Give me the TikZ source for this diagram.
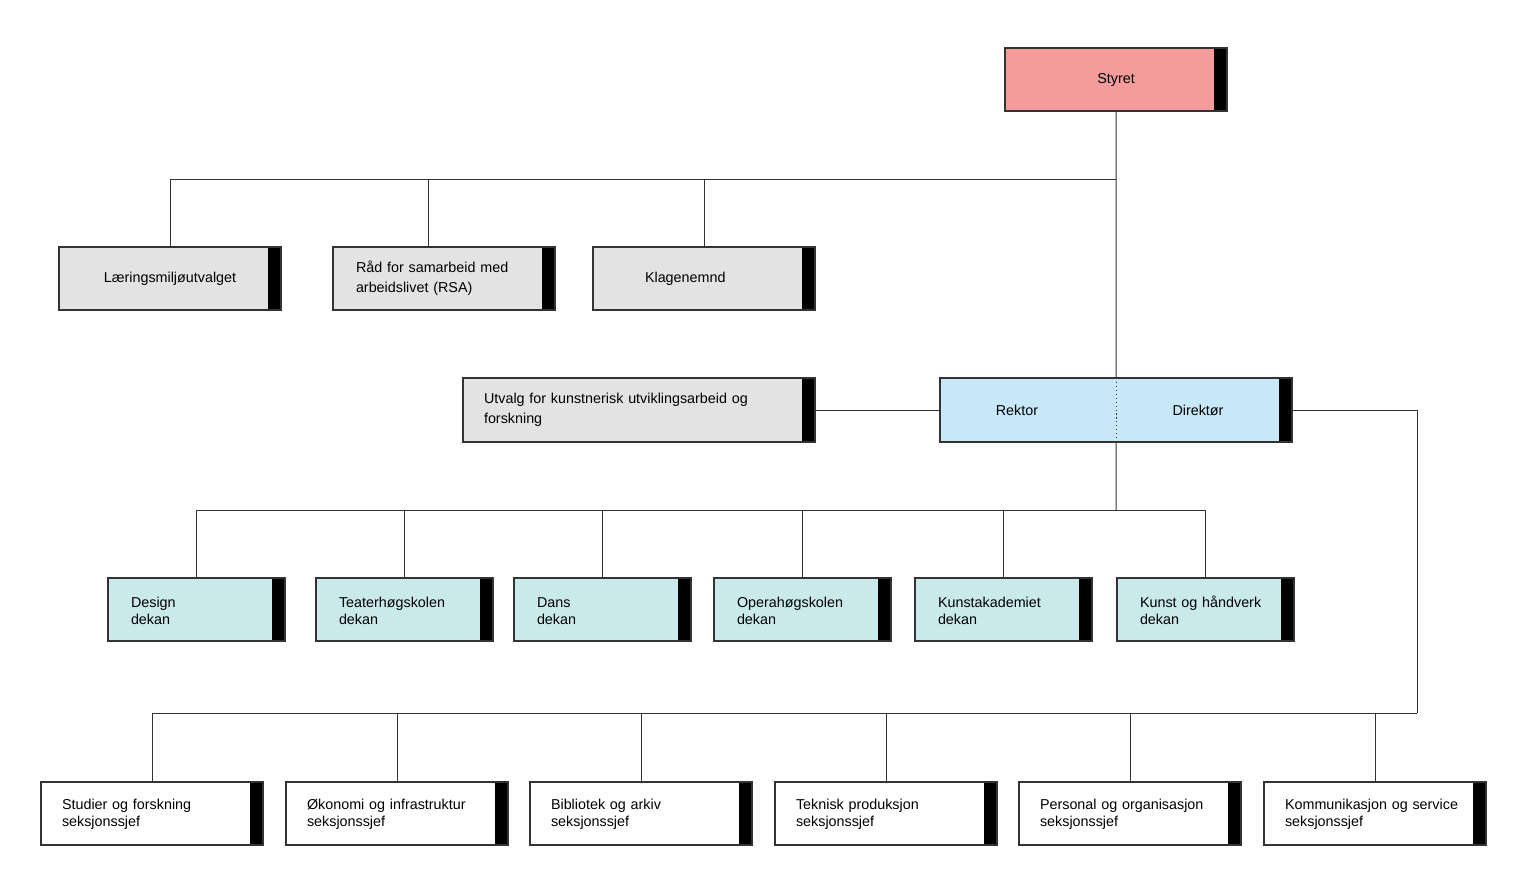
\documentclass[tikz,border=0pt]{standalone}
\usepackage{fontspec}
\setmainfont{Liberation Sans}
\usetikzlibrary{positioning}

\definecolor{styrerod}{HTML}{F49C9C}
\definecolor{utvalggraa}{HTML}{E3E3E3}
\definecolor{ledelseblaa}{HTML}{C6E8F8}
\definecolor{dekanturkis}{HTML}{C9E9EA}
\definecolor{linjegraa}{HTML}{333333}

\tikzset{
  enhet/.style={draw=black!80, line width=0.9pt, anchor=north west, outer sep=0pt,
    minimum height=1.575cm, inner ysep=0pt, inner xsep=0.55cm, align=left,
    font=\fontsize{10.2}{12.2}\selectfont,
    path picture={\fill[black] ([xshift=-0.325cm]path picture bounding box.north east)
      rectangle (path picture bounding box.south east);}},
  styreboks/.style={enhet, fill=styrerod, minimum width=5.55cm, text width=4.45cm, align=center},
  utvalgboks/.style={enhet, fill=utvalggraa, minimum width=5.55cm, text width=4.4cm,
    inner xsep=0.575cm, font=\fontsize{10.2}{14}\selectfont},
  ledelseboks/.style={enhet, fill=ledelseblaa, minimum width=8.8cm, minimum height=1.6cm},
  dekanboks/.style={enhet, fill=dekanturkis, minimum width=4.425cm, text width=3.275cm, inner xsep=0.575cm},
  seksjonsboks/.style={enhet, fill=white, minimum width=5.55cm, text width=4.5cm, inner xsep=0.525cm},
  linje/.style={draw=linjegraa, line width=0.7pt}
}

\begin{document}
\begin{tikzpicture}[x=0.025cm, y=-0.025cm]
  \useasboundingbox (0,0) rectangle (1536,883);

  % styret og utvalg
  \node[styreboks] (styret) at (1005,48) {Styret};
  \node[utvalgboks, align=center] (laering) at (59,247) {Læringsmiljøutvalget};
  \node[utvalgboks] (raad) at (333,247) {Råd for samarbeid med\\arbeidslivet (RSA)};
  \node[utvalgboks, inner xsep=1.3cm, text width=2.95cm] (klage) at (593,247) {Klagenemnd};
  \node[utvalgboks, minimum width=8.8cm, minimum height=1.6cm, text width=7.75cm, inner xsep=0.525cm]
    (kunstutvalg) at (463,378) {Utvalg for kunstnerisk utviklingsarbeid og\\forskning};

  % ledelse
  \node[ledelseboks] (leder) at (940,378) {};
  \node[font=\fontsize{10.2}{12.2}\selectfont] (rektor) at (1017,410) {Rektor};
  \node[font=\fontsize{10.2}{12.2}\selectfont] (direktor) at (1198,410) {Direktør};
  \draw[linjegraa, dotted, line width=0.8pt] (leder.north) -- (leder.south);

  % fakulteter
  \foreach \navn/\x/\tekst in {design/108/Design, teater/316/Teaterhøgskolen, dans/514/Dans,
      opera/714/Operahøgskolen, kunstak/915/Kunstakademiet, kunsthv/1117/Kunst og håndverk}
    \node[dekanboks] (\navn) at (\x,578) {\vphantom{Åå}\tekst\\dekan};

  % seksjoner
  \foreach \navn/\x/\tekst in {studier/41/Studier og forskning, okonomi/286/Økonomi og infrastruktur,
      bibliotek/530/Bibliotek og arkiv, teknisk/775/Teknisk produksjon,
      personal/1019/Personal og organisasjon, kommunikasjon/1264/Kommunikasjon og service}
    \node[seksjonsboks] (\navn) at (\x,782) {\vphantom{Øå}\tekst\\seksjonssjef};

  % linjer
  \coordinate (toppbuss) at (1116,179);
  \coordinate (dekanbuss) at (1116,510);
  \coordinate (stabknekk) at (1417,713);

  \draw[linje] (styret.south) -- (leder.north);
  \draw[linje] (laering.north) |- (toppbuss);
  \draw[linje] ([xshift=-0.4cm]raad.north) |- (toppbuss);
  \draw[linje] (klage.north) |- (toppbuss);
  \draw[linje] (kunstutvalg.east) -- (leder.west);

  \draw[linje] (leder.south) -- (dekanbuss);
  \foreach \navn in {design,teater,dans,opera,kunstak,kunsthv}
    \draw[linje] (\navn.north) |- (dekanbuss);

  \draw[linje] (leder.east) -| (stabknekk);
  \foreach \navn in {studier,okonomi,bibliotek,teknisk,personal,kommunikasjon}
    \draw[linje] (\navn.north) |- (stabknekk);

\end{tikzpicture}
\end{document}
